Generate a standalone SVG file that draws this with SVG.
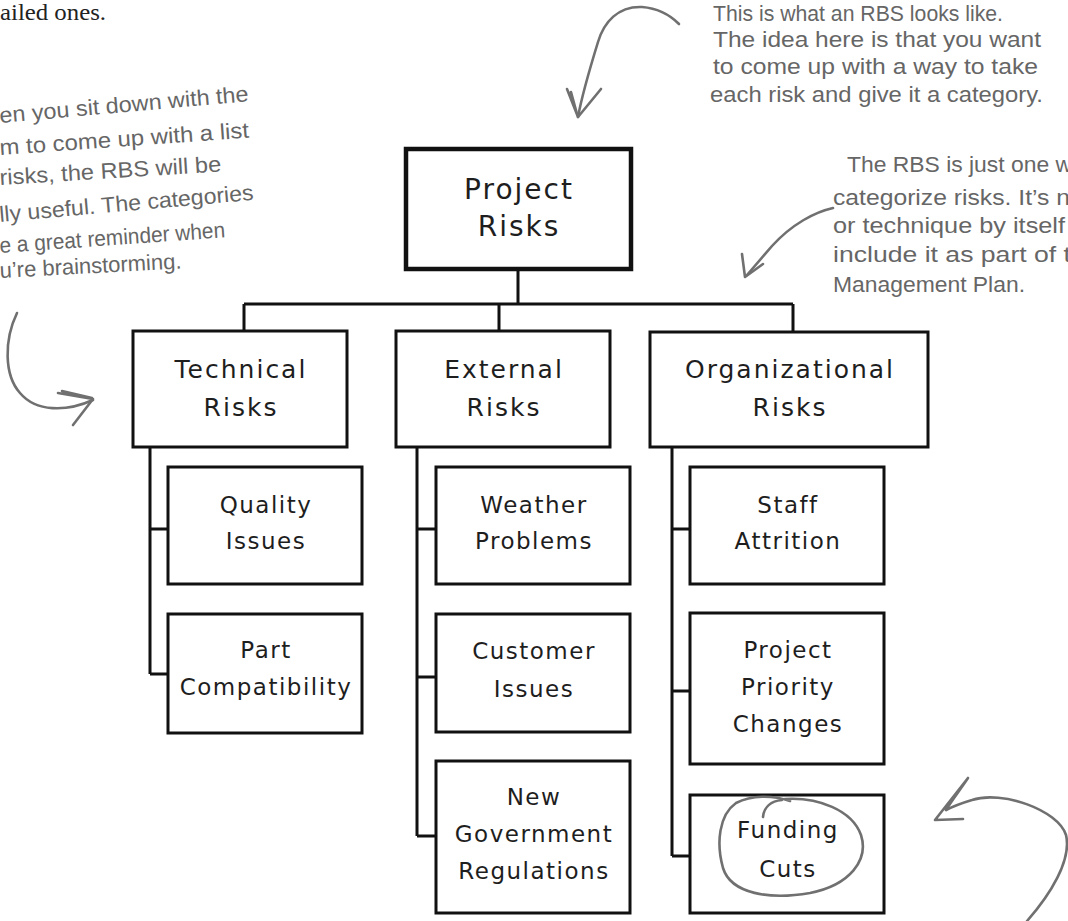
<svg xmlns="http://www.w3.org/2000/svg" width="1068" height="921" viewBox="0 0 1068 921">
<style>
.box{fill:#fff;stroke:#111;stroke-width:3}
.top{fill:#fff;stroke:#111;stroke-width:4.5}
.conn{fill:none;stroke:#111;stroke-width:3}
.t0{font-family:"DejaVu Sans",sans-serif;font-size:28px;letter-spacing:2px;fill:#1e1e1e;text-anchor:middle}
.t1{font-family:"DejaVu Sans",sans-serif;font-size:25px;letter-spacing:2px;fill:#1e1e1e;text-anchor:middle}
.t2{font-family:"DejaVu Sans",sans-serif;font-size:23px;letter-spacing:1.5px;fill:#1e1e1e;text-anchor:middle}
.hand{font-family:"Liberation Sans",sans-serif;font-size:22px;fill:#666}
.ink{fill:none;stroke:#707070;stroke-width:2.6;stroke-linecap:round;stroke-linejoin:round}
</style>
<rect width="1068" height="921" fill="#fff"/>
<text x="0" y="20" font-family="Liberation Serif, serif" font-size="24" fill="#222" textLength="106" lengthAdjust="spacingAndGlyphs">ailed ones.</text>

<g id="connectors">
<path class="conn" d="M518,269 V304 M244,304 H793 M244,304 V331 M499,304 V331 M793,304 V332"/>
<path class="conn" d="M150,447 V674 M150,529 H168 M150,674 H168"/>
<path class="conn" d="M417,447 V836 M417,529 H436 M417,677 H436 M417,836 H436"/>
<path class="conn" d="M672,447 V856 M672,529 H690 M672,691 H690 M672,856 H690"/>
</g>

<g id="project-risks"><rect class="top" x="406" y="149" width="225" height="120"/><text class="t0" x="519" y="199">Project</text><text class="t0" x="519" y="236">Risks</text></g>
<g id="technical-risks"><rect class="box" x="133" y="331" width="214" height="116"/><text class="t1" x="241" y="378">Technical</text><text class="t1" x="241" y="416">Risks</text></g>
<g id="external-risks"><rect class="box" x="396" y="331" width="214" height="116"/><text class="t1" x="504" y="378">External</text><text class="t1" x="504" y="416">Risks</text></g>
<g id="organizational-risks"><rect class="box" x="650" y="332" width="278" height="115"/><text class="t1" x="790" y="378">Organizational</text><text class="t1" x="790" y="416">Risks</text></g>

<g id="quality-issues"><rect class="box" x="168" y="467" width="194" height="117"/><text class="t2" x="266" y="513">Quality</text><text class="t2" x="266" y="549">Issues</text></g>
<g id="part-compatibility"><rect class="box" x="168" y="614" width="194" height="119"/><text class="t2" x="266" y="658">Part</text><text class="t2" x="266" y="695">Compatibility</text></g>

<g id="weather-problems"><rect class="box" x="436" y="467" width="194" height="117"/><text class="t2" x="534" y="513">Weather</text><text class="t2" x="534" y="549">Problems</text></g>
<g id="customer-issues"><rect class="box" x="436" y="614" width="194" height="118"/><text class="t2" x="534" y="659">Customer</text><text class="t2" x="534" y="697">Issues</text></g>
<g id="new-government-regulations"><rect class="box" x="436" y="761" width="194" height="152"/><text class="t2" x="534" y="805">New</text><text class="t2" x="534" y="842">Government</text><text class="t2" x="534" y="879">Regulations</text></g>

<g id="staff-attrition"><rect class="box" x="690" y="467" width="194" height="117"/><text class="t2" x="788" y="513">Staff</text><text class="t2" x="788" y="549">Attrition</text></g>
<g id="project-priority-changes"><rect class="box" x="690" y="613" width="194" height="151"/><text class="t2" x="788" y="658">Project</text><text class="t2" x="788" y="695">Priority</text><text class="t2" x="788" y="732">Changes</text></g>
<g id="funding-cuts"><rect class="box" x="690" y="795" width="194" height="118"/><text class="t2" x="788" y="838">Funding</text><text class="t2" x="788" y="877">Cuts</text></g>

<g id="annotation-left">
<text class="hand" x="0" y="123" transform="rotate(-5 0 123)" textLength="250" lengthAdjust="spacingAndGlyphs">en you sit down with the</text>
<text class="hand" x="0" y="155" transform="rotate(-4 0 155)" textLength="250" lengthAdjust="spacingAndGlyphs">m to come up with a list</text>
<text class="hand" x="0" y="185" transform="rotate(-3.5 0 185)" textLength="222" lengthAdjust="spacingAndGlyphs">risks, the RBS will be</text>
<text class="hand" x="0" y="222" transform="rotate(-5 0 222)" textLength="255" lengthAdjust="spacingAndGlyphs">lly useful. The categories</text>
<text class="hand" x="0" y="253" transform="rotate(-4 0 253)" textLength="226" lengthAdjust="spacingAndGlyphs">e a great reminder when</text>
<text class="hand" x="0" y="278" transform="rotate(-3 0 278)" textLength="182" lengthAdjust="spacingAndGlyphs">u’re brainstorming.</text>
<path class="ink" d="M17,313 C4,340 4,375 20,393 C36,412 66,412 93,400"/>
<path class="ink" d="M58,393 L93,399 L73,425 M62,391 L92,398"/>
</g>

<g id="annotation-top">
<text class="hand" x="713" y="21" textLength="290" lengthAdjust="spacingAndGlyphs">This is what an RBS looks like.</text>
<text class="hand" x="713" y="47" textLength="328" lengthAdjust="spacingAndGlyphs">The idea here is that you want</text>
<text class="hand" x="713" y="74" textLength="325" lengthAdjust="spacingAndGlyphs">to come up with a way to take</text>
<text class="hand" x="710" y="102" textLength="333" lengthAdjust="spacingAndGlyphs">each risk and give it a category.</text>
<path class="ink" d="M679,24 C668,13 655,8 642,7 C618,6 604,22 598,42 C590,68 582,95 578,117"/>
<path class="ink" d="M567,89 L578,117 L601,89 M571,92 L577,114"/>
</g>

<g id="annotation-right">
<text class="hand" x="847" y="172" textLength="225" lengthAdjust="spacingAndGlyphs">The RBS is just one w</text>
<text class="hand" x="833" y="205" textLength="237" lengthAdjust="spacingAndGlyphs">categorize risks. It’s n</text>
<text class="hand" x="833" y="233" textLength="232" lengthAdjust="spacingAndGlyphs">or technique by itself</text>
<text class="hand" x="833" y="262" textLength="238" lengthAdjust="spacingAndGlyphs">include it as part of t</text>
<text class="hand" x="833" y="292" textLength="192" lengthAdjust="spacingAndGlyphs">Management Plan.</text>
<path class="ink" d="M833,208 C815,212 792,224 772,246 L747,275"/>
<path class="ink" d="M742,254 L745,277 L763,264"/>
</g>

<g id="annotation-bottom">
<path class="ink" d="M785,799 C818,797 852,810 861,835 C869,860 850,885 810,893 C770,900 731,894 723,868 C716,843 719,815 736,803 C752,795 772,795 790,801"/>
<path class="ink" d="M763,817 C764,807 771,801 782,800"/>
<path class="ink" d="M1027,921 C1050,895 1072,860 1066,835 C1058,810 1002,790 972,800 C962,803 952,807 946,810"/>
<path class="ink" d="M968,778 L935,820 L963,819 M968,778 C960,790 952,800 946,810"/>
</g>
</svg>
